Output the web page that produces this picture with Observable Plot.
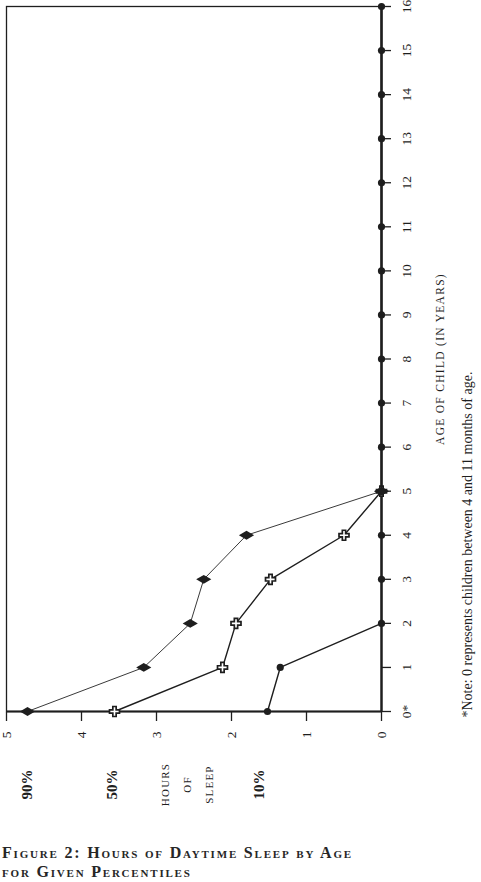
<!DOCTYPE html>
<html><head><meta charset="utf-8">
<script src="https://cdn.jsdelivr.net/npm/d3@7"></script>
<script src="https://cdn.jsdelivr.net/npm/@observablehq/plot@0.6"></script>
<style>
html,body{margin:0;padding:0;background:#fff;overflow:hidden;width:481px;height:882px;}
#rot{position:absolute;left:0;top:0;width:830px;height:481px;transform-origin:0 0;transform:translate(0px,830px) rotate(-90deg);}
#title{position:absolute;left:2px;top:843px;font-family:"Liberation Serif",serif;font-size:16px;font-variant:small-caps;font-weight:bold;letter-spacing:1.8px;line-height:19px;color:#262626;white-space:nowrap;}
</style></head><body>
<div id="rot"></div>
<div id="title">Figure 2: Hours of Daytime Sleep by Age<br>for Given Percentiles</div>
<script>
// Age of child (years); 0 represents 4–11 months
const ages = [0,1,2,3,4,5,6,7,8,9,10,11,12,13,14,15,16];
const ageTickLabels = ["0*","1","2","3","4","5","6","7","8","9","10","11","12","13","14","15","16"];
const hourTicks = [0,1,2,3,4,5];
// Hours of daytime sleep by percentile
const p90 = [4.72,3.17,2.55,2.37,1.80,0,0,0,0,0,0,0,0,0,0,0,0];
const p50 = [3.56,2.12,1.94,1.48,0.50,0,0,0,0,0,0,0,0,0,0,0,0];
const p10 = [1.52,1.35,0,0,0,0,0,0,0,0,0,0,0,0,0,0,0];
const seriesLabels = ["90%","50%","10%"];
const yLabel = "HOURS\nOF\nSLEEP";
const xLabel = "AGE OF CHILD (IN YEARS)";
const note = "*Note: 0 represents children between 4 and 11 months of age.";

const ink = "#1e1e1e";
const chart = Plot.plot({
  width: 830,
  height: 481,
  marginLeft: 118,
  marginRight: 7,
  marginTop: 6,
  marginBottom: 100,
  style: {fontFamily: "'Liberation Serif', serif", fontSize: "13.5px", color: ink, background: "white"},
  x: {domain: [0, 16]},
  y: {domain: [0, 5]},
  marks: [
    Plot.frame({stroke: ink, strokeWidth: 1.3}),
    Plot.ruleX([0], {stroke: ink, strokeWidth: 2}),
    Plot.ruleY([0], {stroke: ink, strokeWidth: 2.4}),
    Plot.line(p90, {x: ages, y: p90, stroke: "#3a3a3a", strokeWidth: 1}),
    Plot.line(p50, {x: ages, y: p50, stroke: ink, strokeWidth: 1.4}),
    Plot.line(p10, {x: ages, y: p10, stroke: ink, strokeWidth: 1.4}),
    Plot.dot(p50, {x: ages, y: p50, filter: (d, i) => ages[i] <= 5, symbol: "cross", r: 4.2, fill: "white", stroke: ink, strokeWidth: 1.7}),
    Plot.dot(p90, {x: ages, y: p90, filter: (d, i) => ages[i] <= 5, symbol: "diamond", r: 4.6, fill: ink}),
    Plot.dot(p10, {x: ages, y: p10, symbol: "circle", r: 3.6, fill: ink}),
    Plot.axisX({ticks: ages, tickFormat: (d) => ageTickLabels[ages.indexOf(d)], tickSize: 10, tickPadding: 10, strokeWidth: 1.3, label: null}),
    Plot.axisY({ticks: hourTicks, tickFormat: d3.format("d"), tickSize: 9, tickPadding: 11, strokeWidth: 1.3, label: null}),
    Plot.text([seriesLabels[0]], {y: p90[0], frameAnchor: "left", textAnchor: "middle", dx: -73, fontWeight: "bold", fontSize: 15}),
    Plot.text([seriesLabels[1]], {y: p50[0], frameAnchor: "left", textAnchor: "middle", dx: -73, dy: -2, fontWeight: "bold", fontSize: 15}),
    Plot.text([seriesLabels[2]], {y: p10[0], frameAnchor: "left", textAnchor: "middle", dx: -73, dy: -8, fontWeight: "bold", fontSize: 15}),
    Plot.text([yLabel], {y: (p50[0] + p10[0]) / 2, frameAnchor: "left", textAnchor: "middle", dx: -73, dy: -7, fontSize: 11, lineHeight: 2.0}),
    Plot.text([xLabel], {x: 8, frameAnchor: "bottom", dy: 62, fontSize: 11.5}),
    Plot.text([note], {x: 0, frameAnchor: "bottom", dy: 90, dx: -6, textAnchor: "start", fontSize: 14})
  ]
});
d3.select(chart).selectAll("text").each(function() {
  const t = this.textContent;
  if (t === xLabel) this.setAttribute("letter-spacing", "1.3");
});
d3.select(chart).selectAll("tspan").each(function() {
  const t = this.textContent;
  if (t === "HOURS" || t === "OF" || t === "SLEEP") this.parentNode.setAttribute("letter-spacing", "1.2");
});
document.getElementById("rot").appendChild(chart);
</script>
</body></html>
